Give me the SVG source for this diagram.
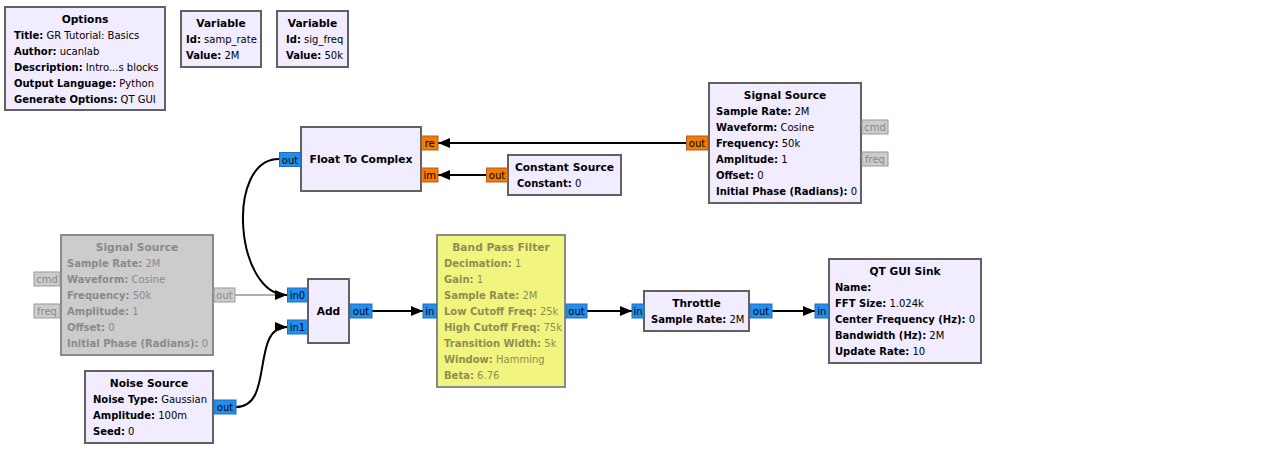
<svg xmlns="http://www.w3.org/2000/svg" width="1261" height="460" viewBox="0 0 1261 460">
<style>
text{font-family:"DejaVu Sans","Liberation Sans",sans-serif;font-size:10px;fill:#000}
.b{font-weight:bold}
.t{font-weight:bold;text-anchor:middle;font-size:10.67px}
.blk{fill:#f1ecff;stroke:#616161;stroke-width:2}
.dis{fill:#cccccc;stroke:#8a8a8a;stroke-width:2}
.byp{fill:#f1f57f;stroke:#8a8a8a;stroke-width:2}
.pb{fill:#1f8ff0;stroke:#2a6cb8;stroke-width:1}
.po{fill:#f07c00;stroke:#b8582a;stroke-width:1}
.pd{fill:#cccccc;stroke:#9a9a9a;stroke-width:1}
.pl{text-anchor:middle}
.dt text,.dt tspan{fill:#8a8a8a}
.bt text,.bt tspan{fill:#8e8e52}
.c{fill:none;stroke:#000;stroke-width:2}
.cd{fill:none;stroke:#b0b0b0;stroke-width:2}
</style>
<defs>
<marker id="ah" markerWidth="12" markerHeight="10" refX="12" refY="5" orient="auto" markerUnits="userSpaceOnUse"><path d="M0,0 L12,5 L0,10 z" fill="#000"/></marker>
</defs>
<rect width="1261" height="460" fill="#ffffff"/>

<g id="connectors">
<path class="cd" d="M235,295 H278"/>
<path class="c" d="M686,143 H438" marker-end="url(#ah)"/>
<path class="c" d="M486,175 H438" marker-end="url(#ah)"/>
<path class="c" d="M279,159 C225,159 235,295 287,295" marker-end="url(#ah)"/>
<path class="c" d="M236,407 C275,407 250,327 287,327" marker-end="url(#ah)"/>
<path class="c" d="M372,311 H423" marker-end="url(#ah)"/>
<path class="c" d="M587,311 H632" marker-end="url(#ah)"/>
<path class="c" d="M772,311 H815" marker-end="url(#ah)"/>
</g>

<g id="options">
<rect class="blk" x="5" y="7" width="160" height="103"/>
<text class="t" x="85" y="23">Options</text>
<text x="14" y="39"><tspan class="b">Title:</tspan> GR Tutorial: Basics</text>
<text x="14" y="55"><tspan class="b">Author:</tspan> ucanlab</text>
<text x="14" y="71"><tspan class="b">Description:</tspan> Intro...s blocks</text>
<text x="14" y="87"><tspan class="b">Output Language:</tspan> Python</text>
<text x="14" y="103"><tspan class="b">Generate Options:</tspan> QT GUI</text>
</g>

<g id="var_samp_rate">
<rect class="blk" x="181" y="11" width="80" height="56"/>
<text class="t" x="221" y="27">Variable</text>
<text x="186" y="43"><tspan class="b">Id:</tspan> samp_rate</text>
<text x="186" y="59"><tspan class="b">Value:</tspan> 2M</text>
</g>

<g id="var_sig_freq">
<rect class="blk" x="277" y="11" width="71" height="56"/>
<text class="t" x="312.5" y="27">Variable</text>
<text x="286" y="43"><tspan class="b">Id:</tspan> sig_freq</text>
<text x="286" y="59"><tspan class="b">Value:</tspan> 50k</text>
</g>

<g id="float_to_complex">
<rect class="blk" x="301" y="127" width="120" height="64"/>
<text class="t" x="361" y="163">Float To Complex</text>
<rect class="pb" x="279.5" y="152.5" width="21" height="14"/>
<text class="pl" x="290" y="163.5">out</text>
<rect class="po" x="421.5" y="136" width="16.5" height="14"/>
<text class="pl" x="429.7" y="147">re</text>
<rect class="po" x="421.5" y="168" width="16.5" height="14"/>
<text class="pl" x="429.7" y="179">im</text>
</g>

<g id="constant_source">
<rect class="blk" x="508" y="155" width="113" height="40"/>
<text class="t" x="564.5" y="171">Constant Source</text>
<text x="517" y="187"><tspan class="b">Constant:</tspan> 0</text>
<rect class="po" x="486.5" y="168" width="21" height="14"/>
<text class="pl" x="497" y="179">out</text>
</g>

<g id="signal_source">
<rect class="blk" x="709" y="83" width="152" height="120"/>
<text class="t" x="785" y="99">Signal Source</text>
<text x="716" y="115"><tspan class="b">Sample Rate:</tspan> 2M</text>
<text x="716" y="131"><tspan class="b">Waveform:</tspan> Cosine</text>
<text x="716" y="147"><tspan class="b">Frequency:</tspan> 50k</text>
<text x="716" y="163"><tspan class="b">Amplitude:</tspan> 1</text>
<text x="716" y="179"><tspan class="b">Offset:</tspan> 0</text>
<text x="716" y="195"><tspan class="b">Initial Phase (Radians):</tspan> 0</text>
<rect class="po" x="686.5" y="136" width="21.5" height="14"/>
<text class="pl" x="697" y="147">out</text>
<g class="dt">
<rect class="pd" x="862" y="120" width="26" height="14"/>
<text class="pl" x="875" y="131">cmd</text>
<rect class="pd" x="862" y="152" width="26" height="14"/>
<text class="pl" x="875" y="163">freq</text>
</g>
</g>

<g id="signal_source_disabled" class="dt">
<rect class="dis" x="61" y="235" width="152" height="120"/>
<text class="t" x="137" y="251">Signal Source</text>
<text x="67" y="267"><tspan class="b">Sample Rate:</tspan> 2M</text>
<text x="67" y="283"><tspan class="b">Waveform:</tspan> Cosine</text>
<text x="67" y="299"><tspan class="b">Frequency:</tspan> 50k</text>
<text x="67" y="315"><tspan class="b">Amplitude:</tspan> 1</text>
<text x="67" y="331"><tspan class="b">Offset:</tspan> 0</text>
<text x="67" y="347"><tspan class="b">Initial Phase (Radians):</tspan> 0</text>
<rect class="pd" x="34" y="272" width="26" height="14"/>
<text class="pl" x="47" y="283">cmd</text>
<rect class="pd" x="34" y="304" width="26" height="14"/>
<text class="pl" x="47" y="315">freq</text>
<rect class="pd" x="214" y="288" width="21" height="14"/>
<text class="pl" x="224.5" y="299">out</text>
</g>

<g id="add">
<rect class="blk" x="308" y="279" width="41" height="64"/>
<text class="t" x="328.5" y="315">Add</text>
<rect class="pb" x="287.5" y="288" width="20" height="14"/>
<text class="pl" x="297.5" y="299">in0</text>
<rect class="pb" x="287.5" y="320" width="20" height="14"/>
<text class="pl" x="297.5" y="331">in1</text>
<rect class="pb" x="350" y="304" width="22" height="14"/>
<text class="pl" x="361" y="315">out</text>
</g>

<g id="band_pass_filter" class="bt">
<rect class="byp" x="437" y="235" width="128" height="152"/>
<text class="t" x="501" y="251">Band Pass Filter</text>
<text x="444" y="267"><tspan class="b">Decimation:</tspan> 1</text>
<text x="444" y="283"><tspan class="b">Gain:</tspan> 1</text>
<text x="444" y="299"><tspan class="b">Sample Rate:</tspan> 2M</text>
<text x="444" y="315"><tspan class="b">Low Cutoff Freq:</tspan> 25k</text>
<text x="444" y="331"><tspan class="b">High Cutoff Freq:</tspan> 75k</text>
<text x="444" y="347"><tspan class="b">Transition Width:</tspan> 5k</text>
<text x="444" y="363"><tspan class="b">Window:</tspan> Hamming</text>
<text x="444" y="379"><tspan class="b">Beta:</tspan> 6.76</text>
<rect class="pb" x="423" y="304" width="13.5" height="14"/>
<rect class="pb" x="566" y="304" width="21" height="14"/>
<text class="pl" x="429.7" y="315" style="fill:#000">in</text>
<text class="pl" x="576.5" y="315" style="fill:#000">out</text>
</g>

<g id="throttle">
<rect class="blk" x="644" y="291" width="105" height="40"/>
<text class="t" x="696.5" y="307">Throttle</text>
<text x="651" y="323"><tspan class="b">Sample Rate:</tspan> 2M</text>
<rect class="pb" x="632" y="304" width="12" height="14"/>
<text class="pl" x="638" y="315">in</text>
<rect class="pb" x="750" y="304" width="22" height="14"/>
<text class="pl" x="761" y="315">out</text>
</g>

<g id="qt_gui_sink">
<rect class="blk" x="829" y="259" width="152" height="104"/>
<text class="t" x="905" y="275">QT GUI Sink</text>
<text x="835" y="291"><tspan class="b">Name:</tspan></text>
<text x="835" y="307"><tspan class="b">FFT Size:</tspan> 1.024k</text>
<text x="835" y="323"><tspan class="b">Center Frequency (Hz):</tspan> 0</text>
<text x="835" y="339"><tspan class="b">Bandwidth (Hz):</tspan> 2M</text>
<text x="835" y="355"><tspan class="b">Update Rate:</tspan> 10</text>
<rect class="pb" x="815" y="304" width="13.5" height="14"/>
<text class="pl" x="821.7" y="315">in</text>
</g>

<g id="noise_source">
<rect class="blk" x="85" y="371" width="128" height="72"/>
<text class="t" x="149" y="387">Noise Source</text>
<text x="93" y="403"><tspan class="b">Noise Type:</tspan> Gaussian</text>
<text x="93" y="419"><tspan class="b">Amplitude:</tspan> 100m</text>
<text x="93" y="435"><tspan class="b">Seed:</tspan> 0</text>
<rect class="pb" x="214" y="400" width="22" height="14"/>
<text class="pl" x="225" y="411">out</text>
</g>
</svg>
